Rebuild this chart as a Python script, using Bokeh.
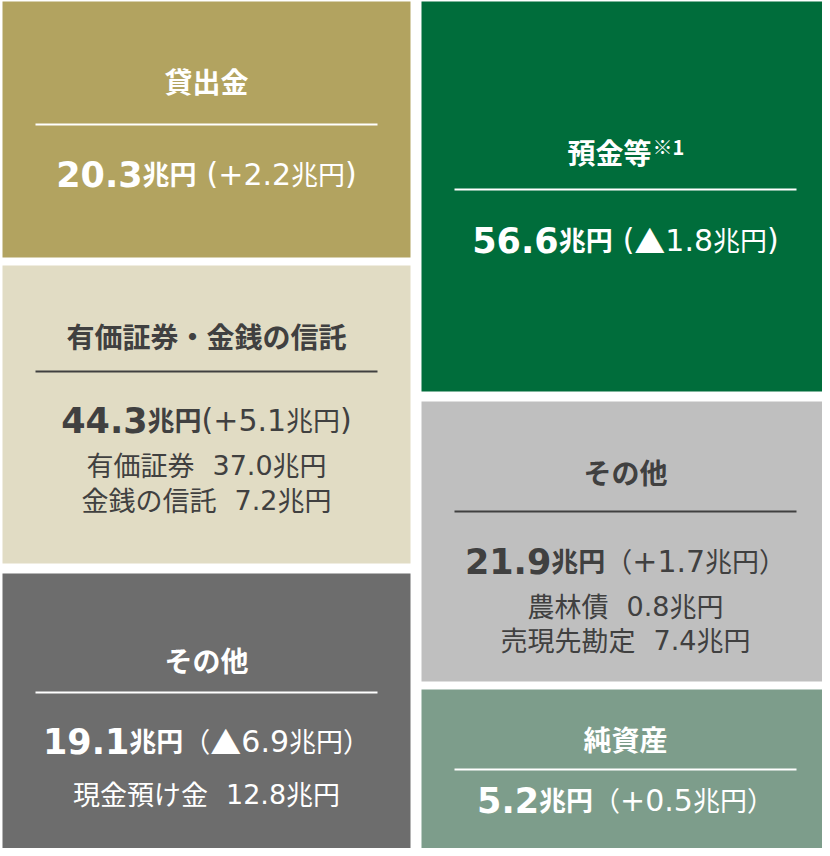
from bokeh.plotting import figure
from bokeh.models import Range1d, ColumnDataSource
from bokeh.embed import file_html
from bokeh.resources import INLINE

# ---------------- data ----------------
asset_titles = ["貸出金", "有価証券・金銭の信託", "その他"]
asset_amounts = [20.3, 44.3, 19.1]
asset_changes = [2.2, 5.1, -6.9]
asset_detail_labels = [[], ["有価証券", "金銭の信託"], ["現金預け金"]]
asset_detail_values = [[], [37.0, 7.2], [12.8]]

liab_titles = ["預金等", "その他", "純資産"]
liab_notes = ["※1", "", ""]
liab_amounts = [56.6, 21.9, 5.2]
liab_changes = [-1.8, 1.7, 0.5]
liab_detail_labels = [[], ["農林債", "売現先勘定"], []]
liab_detail_values = [[], [0.8, 7.4], []]

UNIT = "兆円"

# ---------------- layout / style ----------------
W, H = 822, 848
CJK = "Noto Sans CJK JP"
LAT = "DejaVu Sans"
DARK = "#404040"
WHITE = "#ffffff"

col_x = [(2, 410), (421, 829)]
block_y = [[(1, 257), (265, 563), (573, 880)],
           [(1, 391), (401, 681), (689, 880)]]
block_fill = [["#B2A360", "#E1DCC4", "#6D6D6D"],
              ["#006D3B", "#BFBFBF", "#7D9D8B"]]
block_text = [[WHITE, DARK, WHITE], [WHITE, DARK, WHITE]]
rule_y = [[124, 371, 692], [189, 511, 769]]
rule_half = 171
title_y = [[80, 335, 659], [151, 471, 738]]
value_y = [[173, 419, 740], [239, 560, 799]]
detail_y = [[[], [464, 499], [793]], [[], [605, 639], []]]
# (gap before paren, full-width paren?)
paren = [[(10, False), (0, False), (0, True)],
         [(10, False), (0, True), (0, True)]]

TITLE_SZ = 28
NOTE_SZ = 20
NUM_SZ = 35
UNIT_SZ = 27
CHG_SZ = 30
TRI_SZ = 31
DET_SZ = 27

LAT_W = {
    "normal": dict({d: 0.636 for d in "0123456789"},
                   **{".": 0.318, "(": 0.390, ")": 0.390, "+": 0.838, " ": 0.318}),
    "bold": dict({d: 0.696 for d in "0123456789"},
                 **{".": 0.380, "(": 0.457, ")": 0.457, "+": 0.838, " ": 0.348}),
}


def seg_width(text, font, size, style):
    w = 0.0
    for c in text:
        if font == CJK:
            w += 1.0 if ord(c) > 0x2000 else 0.56
        else:
            w += LAT_W[style].get(c, 0.7)
    return w * size


rows = dict(x=[], y=[], text=[], font=[], size=[], style=[], color=[])


def place(segments, cx, y, color):
    # segments: (text, font, size, style, dy, gap_after)
    total = sum(seg_width(t, f, s, st) + g for t, f, s, st, dy, g in segments)
    x = cx - total / 2
    for t, f, s, st, dy, g in segments:
        rows["x"].append(x)
        rows["y"].append(y + dy)
        rows["text"].append(t)
        rows["font"].append(f)
        rows["size"].append(f"{s}px")
        rows["style"].append(st)
        rows["color"].append(color)
        x += seg_width(t, f, s, st) + g


p = figure(width=W, height=H, x_range=Range1d(0, W), y_range=Range1d(H, 0),
           output_backend="svg", toolbar_location=None, min_border=0,
           x_axis_location=None, y_axis_location=None)
p.grid.visible = False
p.outline_line_color = None
p.background_fill_color = "white"
p.border_fill_color = "white"

columns = [
    (asset_titles, ["", "", ""], asset_amounts, asset_changes, asset_detail_labels, asset_detail_values),
    (liab_titles, liab_notes, liab_amounts, liab_changes, liab_detail_labels, liab_detail_values),
]

qs = dict(left=[], right=[], top=[], bottom=[], color=[])
rs = dict(x0=[], x1=[], y=[], color=[])

for c, (titles, notes, amounts, changes, dlabels, dvalues) in enumerate(columns):
    x0, x1 = col_x[c]
    cx = (x0 + x1) / 2
    for i in range(len(titles)):
        y0, y1 = block_y[c][i]
        tc = block_text[c][i]
        qs["left"].append(x0); qs["right"].append(x1)
        qs["top"].append(y0); qs["bottom"].append(y1)
        qs["color"].append(block_fill[c][i])
        rs["x0"].append(cx - rule_half); rs["x1"].append(cx + rule_half)
        rs["y"].append(rule_y[c][i]); rs["color"].append(tc)

        # title
        tsegs = [(titles[i], CJK, TITLE_SZ, "bold", 0, 1 if notes[i] else 0)]
        if notes[i]:
            tsegs.append((notes[i], CJK, NOTE_SZ, "bold", -5, 0))
        place(tsegs, cx, title_y[c][i], tc)

        # value line
        gap, full = paren[c][i]
        chg = changes[i]
        segs = [(f"{amounts[i]:.1f}", LAT, NUM_SZ, "bold", 0, 0),
                (UNIT, CJK, UNIT_SZ, "bold", 0, gap)]
        if full:
            segs.append(("（", CJK, UNIT_SZ, "normal", 0, 0))
        else:
            segs.append(("(", LAT, CHG_SZ, "normal", 0, 0))
        if chg < 0:
            segs.append(("▲", CJK, TRI_SZ, "normal", 0, 0))
            segs.append((f"{abs(chg):.1f}", LAT, CHG_SZ, "normal", 0, 0))
        else:
            segs.append((f"+{chg:.1f}", LAT, CHG_SZ, "normal", 0, 0))
        segs.append((UNIT, CJK, UNIT_SZ, "normal", 0, 0))
        if full:
            segs.append(("）", CJK, UNIT_SZ, "normal", 0, 0))
        else:
            segs.append((")", LAT, CHG_SZ, "normal", 0, 0))
        place(segs, cx, value_y[c][i], tc)

        for j, (lab, val) in enumerate(zip(dlabels[i], dvalues[i])):
            dsegs = [(lab, CJK, DET_SZ, "normal", 0, 18),
                     (f"{val:.1f}", LAT, DET_SZ, "normal", 0, 0),
                     (UNIT, CJK, DET_SZ, "normal", 0, 0)]
            place(dsegs, cx, detail_y[c][i][j], tc)

p.quad(left="left", right="right", top="top", bottom="bottom", fill_color="color",
       line_color=None, source=ColumnDataSource(qs))
p.segment(x0="x0", x1="x1", y0="y", y1="y", line_color="color", line_width=2,
          source=ColumnDataSource(rs))

p.text(x="x", y="y", text="text", text_font="font", text_font_size="size",
       text_font_style="style", text_color="color", text_align="left",
       text_baseline="middle", source=ColumnDataSource(rows))

open("out.html", "w").write(file_html(p, INLINE))
